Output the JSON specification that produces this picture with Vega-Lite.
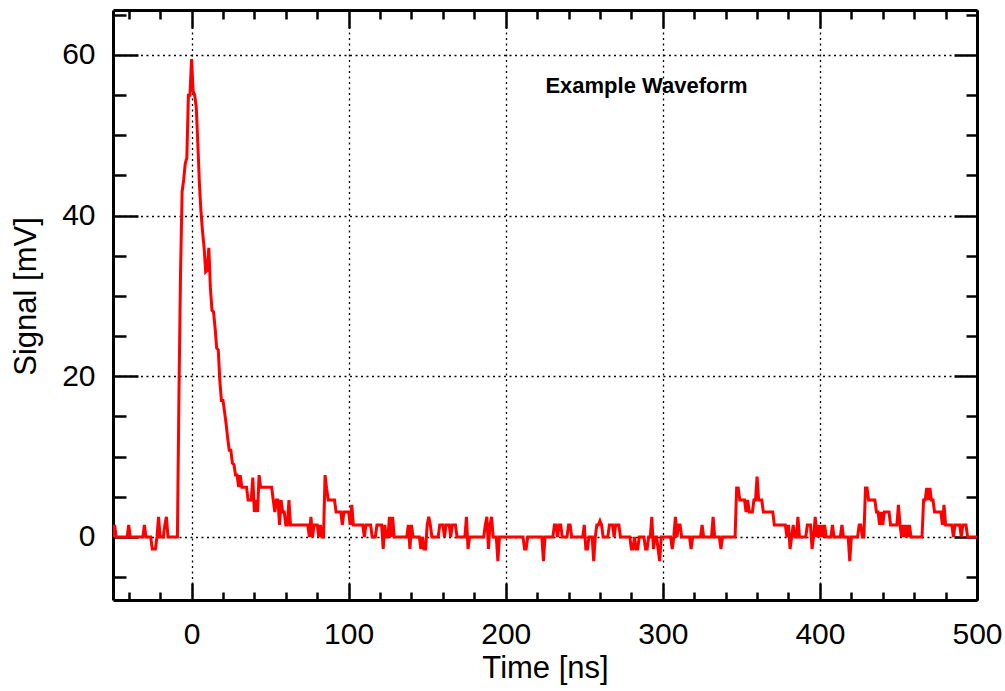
{
  "$schema": "https://vega.github.io/schema/vega-lite/v6.json",
  "width": 864,
  "height": 590,
  "autosize": {"type": "none"},
  "padding": {"left": 113, "top": 10, "right": 28, "bottom": 91},
  "background": "white",
  "config": {
    "view": {"stroke": null},
    "axis": {
      "domainColor": "black",
      "domainWidth": 3,
      "tickColor": "black",
      "tickWidth": 2.5,
      "labelFont": "Liberation Sans",
      "labelFontSize": 30,
      "labelColor": "black",
      "titleFont": "Liberation Sans",
      "titleFontSize": 31,
      "titleFontWeight": "normal",
      "titleColor": "black",
      "labelOverlap": false,
      "labelFlush": false,
      "zindex": 1
    }
  },
  "layer": [
    {
      "data": {"values": [
        {"t": -50, "v": 0}, {"t": -49, "v": 1.5}, {"t": -48, "v": 0}, {"t": -41, "v": 0}, {"t": -40, "v": 1.5}, {"t": -39, "v": 0},
        {"t": -31, "v": 0}, {"t": -30, "v": 1.5}, {"t": -29, "v": 0}, {"t": -26, "v": 0}, {"t": -25, "v": -1.5}, {"t": -23, "v": -1.5},
        {"t": -22, "v": 0}, {"t": -21, "v": 2.5}, {"t": -20, "v": 0}, {"t": -18, "v": 0}, {"t": -17, "v": 1.5}, {"t": -16, "v": 2.5},
        {"t": -15, "v": 0}, {"t": -9, "v": 0}, {"t": -8, "v": 18}, {"t": -7, "v": 33}, {"t": -6, "v": 43}, {"t": -5, "v": 44.5},
        {"t": -4, "v": 46.5}, {"t": -3, "v": 47.2}, {"t": -2, "v": 55}, {"t": -1, "v": 55}, {"t": 0, "v": 59.5}, {"t": 1, "v": 55.5},
        {"t": 2, "v": 55}, {"t": 3, "v": 53.5}, {"t": 4, "v": 49}, {"t": 5, "v": 44}, {"t": 6, "v": 40.5}, {"t": 7, "v": 38},
        {"t": 8, "v": 36}, {"t": 9, "v": 33}, {"t": 10, "v": 33.2}, {"t": 11, "v": 36}, {"t": 12, "v": 31}, {"t": 13, "v": 28.2},
        {"t": 14, "v": 28}, {"t": 15, "v": 26}, {"t": 16, "v": 23.5}, {"t": 17, "v": 23.3}, {"t": 18, "v": 19.5}, {"t": 19, "v": 17},
        {"t": 20, "v": 17}, {"t": 21, "v": 15.6}, {"t": 22, "v": 14.1}, {"t": 23, "v": 12.3}, {"t": 24, "v": 10.8}, {"t": 25, "v": 10.8},
        {"t": 26, "v": 9.2}, {"t": 27, "v": 9}, {"t": 28, "v": 7.7}, {"t": 29, "v": 7.7}, {"t": 30, "v": 6.2}, {"t": 31, "v": 7.7},
        {"t": 32, "v": 6.2}, {"t": 35, "v": 6.2}, {"t": 36, "v": 4.6}, {"t": 38, "v": 4.6}, {"t": 39, "v": 7.4}, {"t": 40, "v": 3.1},
        {"t": 41, "v": 4.6}, {"t": 42, "v": 3.1}, {"t": 43, "v": 7.7}, {"t": 44, "v": 6.2}, {"t": 51, "v": 6.2}, {"t": 52, "v": 4.6},
        {"t": 53, "v": 3.1}, {"t": 54, "v": 4.6}, {"t": 55, "v": 4.6}, {"t": 56, "v": 1.5}, {"t": 57, "v": 4.6}, {"t": 58, "v": 3.1},
        {"t": 59, "v": 3.1}, {"t": 60, "v": 1.5}, {"t": 61, "v": 1.5}, {"t": 62, "v": 4.6}, {"t": 63, "v": 1.5}, {"t": 74, "v": 1.5},
        {"t": 75, "v": 0}, {"t": 76, "v": 2.5}, {"t": 77, "v": 0}, {"t": 78, "v": 1.5}, {"t": 80, "v": 1.5}, {"t": 81, "v": 0},
        {"t": 82, "v": 1.5}, {"t": 83, "v": 0}, {"t": 84, "v": 0}, {"t": 85, "v": 7.7}, {"t": 86, "v": 6}, {"t": 87, "v": 4.6},
        {"t": 91, "v": 4.6}, {"t": 92, "v": 3.1}, {"t": 95, "v": 3.1}, {"t": 96, "v": 1.5}, {"t": 97, "v": 3.1}, {"t": 100, "v": 3.1},
        {"t": 101, "v": 1.5}, {"t": 102, "v": 4}, {"t": 103, "v": 1.5}, {"t": 109, "v": 1.5}, {"t": 110, "v": 0}, {"t": 111, "v": 1.5},
        {"t": 114, "v": 1.5}, {"t": 115, "v": 0}, {"t": 117, "v": 0}, {"t": 118, "v": 1.5}, {"t": 121, "v": 1.5}, {"t": 122, "v": -1.5},
        {"t": 123, "v": 1.5}, {"t": 124, "v": 0}, {"t": 125, "v": 0}, {"t": 126, "v": 2.5}, {"t": 127, "v": 0}, {"t": 128, "v": 2.5},
        {"t": 129, "v": 0}, {"t": 137, "v": 0}, {"t": 138, "v": 1.5}, {"t": 139, "v": -1.5}, {"t": 140, "v": 1.5}, {"t": 141, "v": 0},
        {"t": 145, "v": 0}, {"t": 146, "v": -1.5}, {"t": 147, "v": 0}, {"t": 148, "v": -1.5}, {"t": 149, "v": -1.5}, {"t": 150, "v": 1.5},
        {"t": 151, "v": 2.5}, {"t": 152, "v": 1.5}, {"t": 153, "v": 0}, {"t": 157, "v": 0}, {"t": 158, "v": 1.5}, {"t": 160, "v": 1.5},
        {"t": 161, "v": 0}, {"t": 162, "v": 1.5}, {"t": 164, "v": 1.5}, {"t": 165, "v": 0}, {"t": 166, "v": 1.5}, {"t": 168, "v": 1.5},
        {"t": 169, "v": 0}, {"t": 174, "v": 0}, {"t": 175, "v": 2.5}, {"t": 176, "v": -1.5}, {"t": 177, "v": 0}, {"t": 186, "v": 0},
        {"t": 187, "v": 1.5}, {"t": 188, "v": 2.5}, {"t": 189, "v": -1.5}, {"t": 190, "v": 1.5}, {"t": 191, "v": 2.5}, {"t": 192, "v": 0},
        {"t": 194, "v": 0}, {"t": 195, "v": -3}, {"t": 196, "v": 0}, {"t": 211, "v": 0}, {"t": 212, "v": -1.5}, {"t": 213, "v": -1.5},
        {"t": 214, "v": 0}, {"t": 223, "v": 0}, {"t": 224, "v": -3}, {"t": 225, "v": 0}, {"t": 230, "v": 0}, {"t": 231, "v": 1.5},
        {"t": 232, "v": 1.5}, {"t": 233, "v": 0}, {"t": 234, "v": 1.5}, {"t": 235, "v": 1.5}, {"t": 236, "v": 0}, {"t": 239, "v": 0},
        {"t": 240, "v": 1.5}, {"t": 241, "v": 1.5}, {"t": 242, "v": 0}, {"t": 249, "v": 0}, {"t": 250, "v": 1.5}, {"t": 251, "v": -1.5},
        {"t": 252, "v": -1.5}, {"t": 253, "v": 0}, {"t": 255, "v": 0}, {"t": 256, "v": -3}, {"t": 257, "v": 0}, {"t": 258, "v": 1.5},
        {"t": 259, "v": 1.5}, {"t": 260, "v": 2}, {"t": 261, "v": 1.5}, {"t": 262, "v": 0}, {"t": 265, "v": 0}, {"t": 266, "v": 1.5},
        {"t": 268, "v": 1.5}, {"t": 269, "v": 0}, {"t": 270, "v": 1.5}, {"t": 272, "v": 1.5}, {"t": 273, "v": 0}, {"t": 279, "v": 0},
        {"t": 280, "v": -1.5}, {"t": 281, "v": -1.5}, {"t": 282, "v": 0}, {"t": 283, "v": -1.5}, {"t": 284, "v": -1.5}, {"t": 285, "v": 0},
        {"t": 288, "v": 0}, {"t": 289, "v": -1.5}, {"t": 290, "v": -1.5}, {"t": 291, "v": 0}, {"t": 292, "v": 0}, {"t": 293, "v": 2.5},
        {"t": 294, "v": -1.5}, {"t": 295, "v": 0}, {"t": 296, "v": 0}, {"t": 297, "v": -1.5}, {"t": 298, "v": -3}, {"t": 299, "v": 0},
        {"t": 305, "v": 0}, {"t": 306, "v": -1.5}, {"t": 307, "v": 0}, {"t": 308, "v": 2.5}, {"t": 309, "v": 0}, {"t": 310, "v": 1.5},
        {"t": 311, "v": 1.5}, {"t": 312, "v": 0}, {"t": 317, "v": 0}, {"t": 318, "v": -1.5}, {"t": 319, "v": 0}, {"t": 324, "v": 0},
        {"t": 325, "v": 1.5}, {"t": 326, "v": 0}, {"t": 331, "v": 0}, {"t": 332, "v": 2.5}, {"t": 333, "v": 0}, {"t": 336, "v": 0},
        {"t": 337, "v": -1.5}, {"t": 338, "v": 0}, {"t": 346, "v": 0}, {"t": 347, "v": 6.1}, {"t": 348, "v": 6.1}, {"t": 349, "v": 4.6},
        {"t": 352, "v": 4.6}, {"t": 353, "v": 3.1}, {"t": 354, "v": 4.6}, {"t": 355, "v": 3.1}, {"t": 357, "v": 3.1}, {"t": 358, "v": 4.6},
        {"t": 359, "v": 4.6}, {"t": 360, "v": 7.5}, {"t": 361, "v": 4.6}, {"t": 363, "v": 4.6}, {"t": 364, "v": 3.1}, {"t": 370, "v": 3.1},
        {"t": 371, "v": 1.5}, {"t": 378, "v": 1.5}, {"t": 379, "v": 0}, {"t": 380, "v": 1.5}, {"t": 381, "v": -1.5}, {"t": 382, "v": 0},
        {"t": 383, "v": 1.5}, {"t": 384, "v": 0}, {"t": 385, "v": 0}, {"t": 386, "v": 2.5}, {"t": 387, "v": 0}, {"t": 391, "v": 0},
        {"t": 392, "v": 1.5}, {"t": 394, "v": 1.5}, {"t": 395, "v": -1.5}, {"t": 396, "v": 0}, {"t": 397, "v": 2.5}, {"t": 398, "v": 0},
        {"t": 399, "v": 1.5}, {"t": 400, "v": 0}, {"t": 401, "v": 1.5}, {"t": 402, "v": 0}, {"t": 403, "v": 1.5}, {"t": 404, "v": 0},
        {"t": 407, "v": 0}, {"t": 408, "v": 1.5}, {"t": 409, "v": 0}, {"t": 413, "v": 0}, {"t": 414, "v": 1.5}, {"t": 415, "v": 0},
        {"t": 418, "v": 0}, {"t": 419, "v": -3}, {"t": 420, "v": 0}, {"t": 424, "v": 0}, {"t": 425, "v": 1.5}, {"t": 426, "v": 1.5},
        {"t": 427, "v": 0}, {"t": 428, "v": 0}, {"t": 429, "v": 6.1}, {"t": 430, "v": 6.1}, {"t": 431, "v": 4.6}, {"t": 435, "v": 4.6},
        {"t": 436, "v": 3.1}, {"t": 437, "v": 3.1}, {"t": 438, "v": 1.5}, {"t": 439, "v": 3.1}, {"t": 440, "v": 1.5}, {"t": 441, "v": 3.1},
        {"t": 444, "v": 3.1}, {"t": 445, "v": 1.5}, {"t": 449, "v": 1.5}, {"t": 450, "v": 4}, {"t": 451, "v": 1.5}, {"t": 452, "v": 0},
        {"t": 453, "v": 1.5}, {"t": 454, "v": 0}, {"t": 455, "v": 1.5}, {"t": 456, "v": 0}, {"t": 457, "v": 1.5}, {"t": 458, "v": 0},
        {"t": 465, "v": 0}, {"t": 466, "v": 4.6}, {"t": 467, "v": 4.6}, {"t": 468, "v": 6.1}, {"t": 469, "v": 4.6}, {"t": 470, "v": 6.1},
        {"t": 471, "v": 4.6}, {"t": 472, "v": 4.6}, {"t": 473, "v": 3.1}, {"t": 477, "v": 3.1}, {"t": 478, "v": 1.5}, {"t": 479, "v": 4},
        {"t": 480, "v": 1.5}, {"t": 484, "v": 1.5}, {"t": 485, "v": 0}, {"t": 486, "v": 1.5}, {"t": 489, "v": 1.5}, {"t": 490, "v": 0},
        {"t": 491, "v": 1.5}, {"t": 493, "v": 1.5}, {"t": 494, "v": 0}, {"t": 500, "v": 0}
      ]},
      "mark": {"type": "line", "color": "#ff0000", "strokeWidth": 3, "clip": true},
      "encoding": {
        "x": {
          "field": "t", "type": "quantitative",
          "scale": {"domain": [-50, 500], "nice": false, "zero": false},
          "axis": {
            "orient": "bottom",
            "values": [-40, -20, 0, 20, 40, 60, 80, 100, 120, 140, 160, 180, 200, 220, 240, 260, 280, 300, 320, 340, 360, 380, 400, 420, 440, 460, 480, 500],
            "format": "d",
            "labelExpr": "datum.value % 100 === 0 ? datum.label : ''",
            "labelBaseline": "top",
            "labelPadding": 36,
            "tickSize": {"condition": {"test": "datum.value % 100 === 0", "value": -17}, "value": -8},
            "grid": true,
            "gridColor": "black",
            "gridWidth": 1.3,
            "gridDash": [2, 3.5],
            "gridOpacity": {"condition": {"test": "datum.value % 100 === 0", "value": 1}, "value": 0},
            "title": "Time [ns]",
            "titleBaseline": "alphabetic",
            "titleY": 77
          }
        },
        "y": {
          "field": "v", "type": "quantitative",
          "scale": {"domain": [-7.85, 65.6], "nice": false, "zero": false},
          "axis": {
            "orient": "left",
            "values": [-5, 0, 5, 10, 15, 20, 25, 30, 35, 40, 45, 50, 55, 60, 65],
            "format": "d",
            "labelExpr": "datum.value % 20 === 0 ? datum.label : ''",
            "labelPadding": 43,
            "tickSize": {"condition": {"test": "datum.value % 20 === 0", "value": -25}, "value": -13},
            "grid": true,
            "gridColor": "black",
            "gridWidth": 1.3,
            "gridDash": [2, 3.5],
            "gridOpacity": {"condition": {"test": "datum.value % 20 === 0", "value": 1}, "value": 0},
            "title": "Signal [mV]",
            "titleAngle": -90,
            "titleBaseline": "alphabetic",
            "titleAlign": "center",
            "titleX": -78,
            "titleY": 286
          }
        }
      }
    },
    {
      "data": {"values": [{"t": 289.6, "v": 56.2, "label": "Example Waveform"}]},
      "mark": {"type": "text", "font": "Liberation Sans", "fontWeight": "bold", "fontSize": 22, "baseline": "middle", "align": "center", "color": "black"},
      "encoding": {
        "x": {
          "field": "t", "type": "quantitative",
          "axis": {
            "orient": "top",
            "values": [-40, -20, 0, 20, 40, 60, 80, 100, 120, 140, 160, 180, 200, 220, 240, 260, 280, 300, 320, 340, 360, 380, 400, 420, 440, 460, 480, 500],
            "labels": false,
            "grid": false,
            "title": null,
            "tickSize": {"condition": {"test": "datum.value % 100 === 0", "value": -18}, "value": -9}
          }
        },
        "y": {
          "field": "v", "type": "quantitative",
          "axis": {
            "orient": "right",
            "values": [-5, 0, 5, 10, 15, 20, 25, 30, 35, 40, 45, 50, 55, 60, 65],
            "labels": false,
            "grid": false,
            "title": null,
            "tickSize": {"condition": {"test": "datum.value % 20 === 0", "value": -23}, "value": -11}
          }
        },
        "text": {"field": "label"}
      }
    }
  ],
  "resolve": {"axis": {"x": "independent", "y": "independent"}}
}
